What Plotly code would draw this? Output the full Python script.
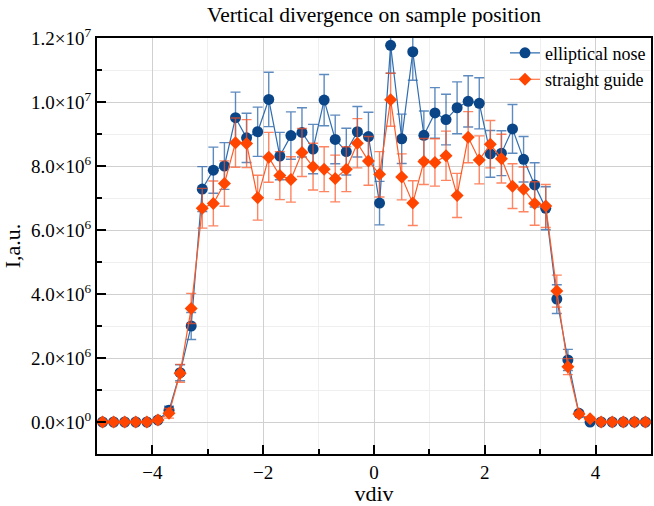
import plotly.graph_objects as go

x_vals = [-4.9, -4.7, -4.5, -4.3, -4.1, -3.9, -3.7, -3.5, -3.3, -3.1,
          -2.9, -2.7, -2.5, -2.3, -2.1, -1.9, -1.7, -1.5, -1.3, -1.1,
          -0.9, -0.7, -0.5, -0.3, -0.1, 0.1, 0.3, 0.5, 0.7, 0.9,
          1.1, 1.3, 1.5, 1.7, 1.9, 2.1, 2.3, 2.5, 2.7, 2.9,
          3.1, 3.3, 3.5, 3.7, 3.9, 4.1, 4.3, 4.5, 4.7, 4.9]

# values in units of 1e6
elliptical = [0, 0, 0, 0, 0, 0.06, 0.37, 1.54, 3.0, 7.28,
              7.87, 8.0, 9.51, 8.88, 9.07, 10.08, 8.31, 8.95, 9.05, 8.53,
              10.06, 8.83, 8.45, 9.07, 8.92, 6.84, 11.77, 8.85, 11.57, 8.96,
              9.66, 9.45, 9.82, 10.02, 9.96, 8.38, 8.40, 9.16, 8.21, 7.41,
              6.68, 3.84, 1.94, 0.27, 0.0, 0, 0, 0, 0, 0]
elliptical_err = [0, 0, 0, 0, 0, 0.03, 0.12, 0.25, 0.42, 0.70,
                  0.72, 0.73, 0.80, 0.77, 0.77, 0.85, 0.74, 0.74, 0.77, 0.77,
                  0.80, 0.76, 0.73, 0.79, 0.76, 0.68, 0.87, 0.77, 0.89, 0.76,
                  0.79, 0.79, 0.81, 0.80, 0.80, 0.73, 0.70, 0.76, 0.71, 0.69,
                  0.67, 0.45, 0.33, 0.06, 0.02, 0, 0, 0, 0, 0]

straight = [0, 0, 0, 0, 0, 0.06, 0.27, 1.52, 3.55, 6.68,
            6.83, 7.45, 8.73, 8.70, 7.01, 8.27, 7.70, 7.58, 8.42, 7.98,
            7.90, 7.61, 7.90, 8.71, 8.16, 7.74, 10.07, 7.66, 6.84, 8.14,
            8.11, 8.32, 7.08, 8.90, 8.19, 8.68, 8.23, 7.37, 7.27, 6.83,
            6.75, 4.09, 1.73, 0.25, 0.10, 0, 0, 0, 0, 0]
straight_err = [0, 0, 0, 0, 0, 0.03, 0.15, 0.28, 0.47, 0.62,
                0.70, 0.71, 0.77, 0.75, 0.70, 0.78, 0.75, 0.71, 0.75, 0.73,
                0.70, 0.73, 0.70, 0.77, 0.76, 0.71, 0.83, 0.72, 0.70, 0.72,
                0.74, 0.77, 0.69, 0.80, 0.75, 0.74, 0.76, 0.70, 0.70, 0.68,
                0.67, 0.50, 0.25, 0.06, 0.05, 0, 0, 0, 0, 0]

scale = 1e6
y_tick_vals = [0, 2e6, 4e6, 6e6, 8e6, 1.0e7, 1.2e7]
y_tick_text = ["0.0×10<sup>0</sup>", "2.0×10<sup>6</sup>", "4.0×10<sup>6</sup>",
               "6.0×10<sup>6</sup>", "8.0×10<sup>6</sup>", "1.0×10<sup>7</sup>",
               "1.2×10<sup>7</sup>"]
x_tick_vals = [-4, -2, 0, 2, 4]
x_tick_text = ["−4", "−2", "0", "2", "4"]

FONT = "Liberation Serif, Times New Roman, serif"

fig = go.Figure()
fig.add_trace(go.Scatter(
    x=x_vals, y=[v * scale for v in elliptical], name="elliptical nose",
    mode="lines+markers",
    line=dict(color="#2f6db0", width=1.2),
    marker=dict(symbol="circle", size=11, color="#0a4587"),
    error_y=dict(type="data", array=[e * scale for e in elliptical_err],
                 color="rgba(40,100,170,0.75)", thickness=1.4, width=5),
))
fig.add_trace(go.Scatter(
    x=x_vals, y=[v * scale for v in straight], name="straight guide",
    mode="lines+markers",
    line=dict(color="#ff5a24", width=1.2),
    marker=dict(symbol="diamond", size=10, color="#ff4500"),
    error_y=dict(type="data", array=[e * scale for e in straight_err],
                 color="rgba(255,80,30,0.7)", thickness=1.4, width=5),
))

fig.update_layout(
    width=654, height=506,
    paper_bgcolor="white", plot_bgcolor="white",
    margin=dict(l=97, r=1, t=38, b=52),
    font=dict(family=FONT, size=18, color="black"),
    title=dict(text="Vertical divergence on sample position", x=0.5, xref="paper",
               xanchor="center", y=0.972, yanchor="middle",
               font=dict(family=FONT, size=21.5, color="black")),
    legend=dict(x=1.0, y=1.008, xanchor="right", yanchor="top",
                bgcolor="rgba(255,255,255,0)", borderwidth=0,
                font=dict(family=FONT, size=18, color="black")),
    showlegend=True,
)

fig.update_xaxes(
    range=[-5, 5], tickmode="array", tickvals=x_tick_vals, ticktext=x_tick_text,
    ticks="inside", ticklen=9, tickwidth=1.5, tickcolor="black",
    showline=True, linecolor="black", linewidth=2, mirror=True,
    showgrid=True, gridcolor="#d0d0d0", gridwidth=1, zeroline=False,
    minor=dict(dtick=1, tick0=0, ticks="inside", ticklen=5, tickcolor="black",
               showgrid=True, gridcolor="#efefef"),
    title=dict(text="vdiv", font=dict(family=FONT, size=22), standoff=6),
    tickfont=dict(family=FONT, size=19),
)
fig.update_yaxes(
    range=[-1e6, 1.2e7], tickmode="array", tickvals=y_tick_vals, ticktext=y_tick_text,
    ticks="inside", ticklen=9, tickwidth=1.5, tickcolor="black",
    showline=True, linecolor="black", linewidth=2, mirror=True,
    showgrid=True, gridcolor="#d0d0d0", gridwidth=1, zeroline=False,
    minor=dict(dtick=1e6, tick0=0, ticks="inside", ticklen=5, tickcolor="black",
               showgrid=True, gridcolor="#efefef"),
    title=dict(text="I,a.u.", font=dict(family=FONT, size=22), standoff=4),
    tickfont=dict(family=FONT, size=19),
)

fig.write_html("out.html", config={"displayModeBar": False},
               post_script="document.body.style.margin='0';")
